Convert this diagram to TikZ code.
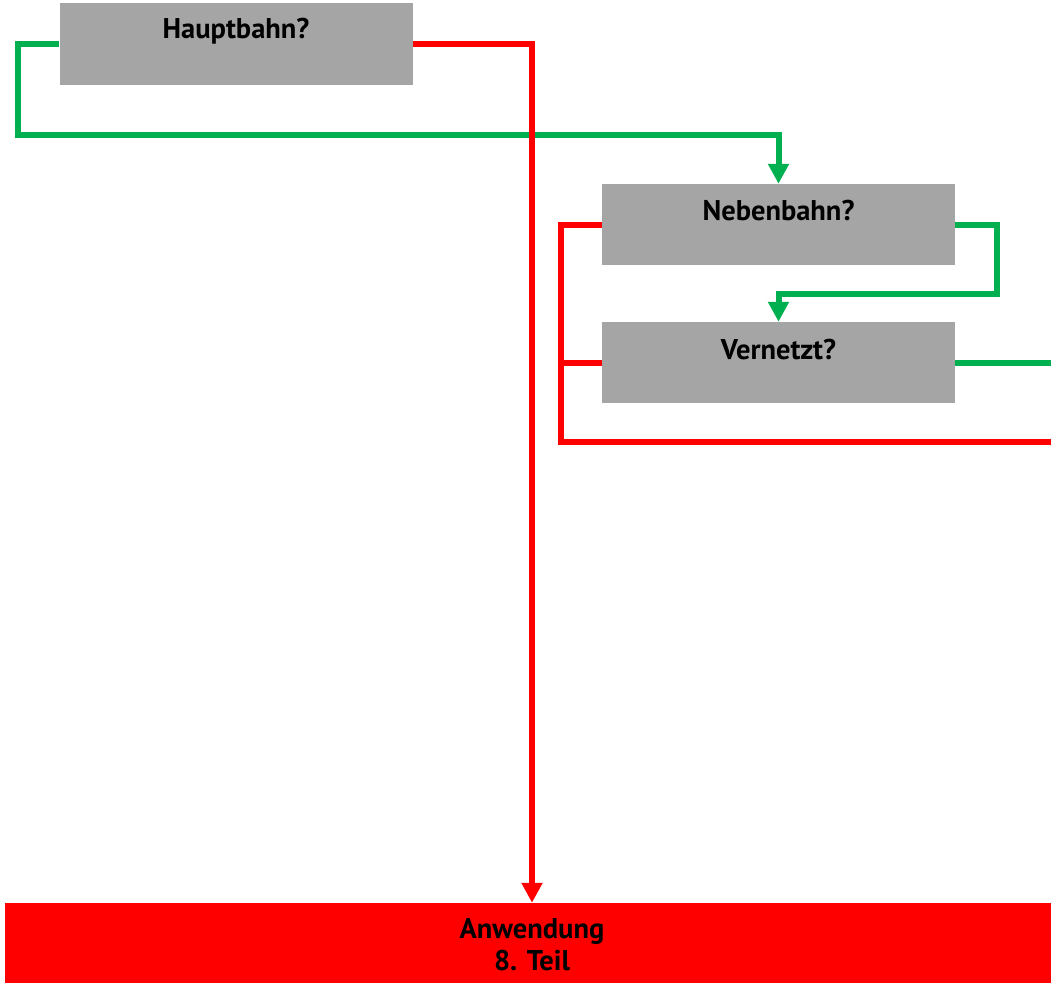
\documentclass[tikz,border=0pt]{standalone}
\usepackage{fontspec}
\setmainfont{PT Sans}
\usetikzlibrary{arrows.meta}
\definecolor{qgray}{HTML}{A5A5A5}
\definecolor{okgreen}{HTML}{00B050}
\definecolor{nored}{HTML}{FF0000}
\begin{document}
\begin{tikzpicture}[x=1pt,y=-1pt,
  qbox/.style={fill=qgray,draw=none,minimum width=353pt,minimum height=81pt,inner sep=0pt},
  endbox/.style={fill=nored,draw=none,minimum width=1054pt,minimum height=80pt,inner sep=0pt},
  qtext/.style={font=\fontsize{28.5}{32}\selectfont\bfseries,inner sep=0pt,align=center},
  yesline/.style={draw=okgreen,line width=6pt},
  noline/.style={draw=nored,line width=6pt},
  tip/.style={-{Triangle[length=20pt,width=20pt]}}]
\clip (0,0) rectangle (1051,982);
\fill[white] (0,0) rectangle (1051,982);

% question boxes
\node[qbox] (hb) at (236,44) {};
\node[qtext] (hbt) at (236,31) {Hauptbahn?};
\node[qbox] (nb) at (778.5,224.5) {};
\node[qtext] (nbt) at (778.5,211) {Nebenbahn?};
\node[qbox] (vn) at (778.5,362.5) {};
\node[qtext] (vnt) at (778.5,350) {Vernetzt?};

% result box
\node[endbox] (aw) at (532,943) {};
\node[qtext] (awt) at (532,945) {Anwendung\\8. Teil};

% free ends leaving on the right
\coordinate (vnout) at (1060,362.5);
\coordinate (noout) at (1060,442);

% yes branches
\draw[yesline,tip] (hb.west) -| (18,135) -| (nb.north);
\draw[yesline,tip] (nb.east) -| (997,294) -| (vn.north);
\draw[yesline] (vn.east) -- (vnout);

% no branches
\draw[noline,tip] (hb.east) -| (aw.north);
\draw[noline] (nb.west) -| (561,442) -- (noout);
\draw[noline] (vn.west) -- (561,362.5);
\end{tikzpicture}
\end{document}
